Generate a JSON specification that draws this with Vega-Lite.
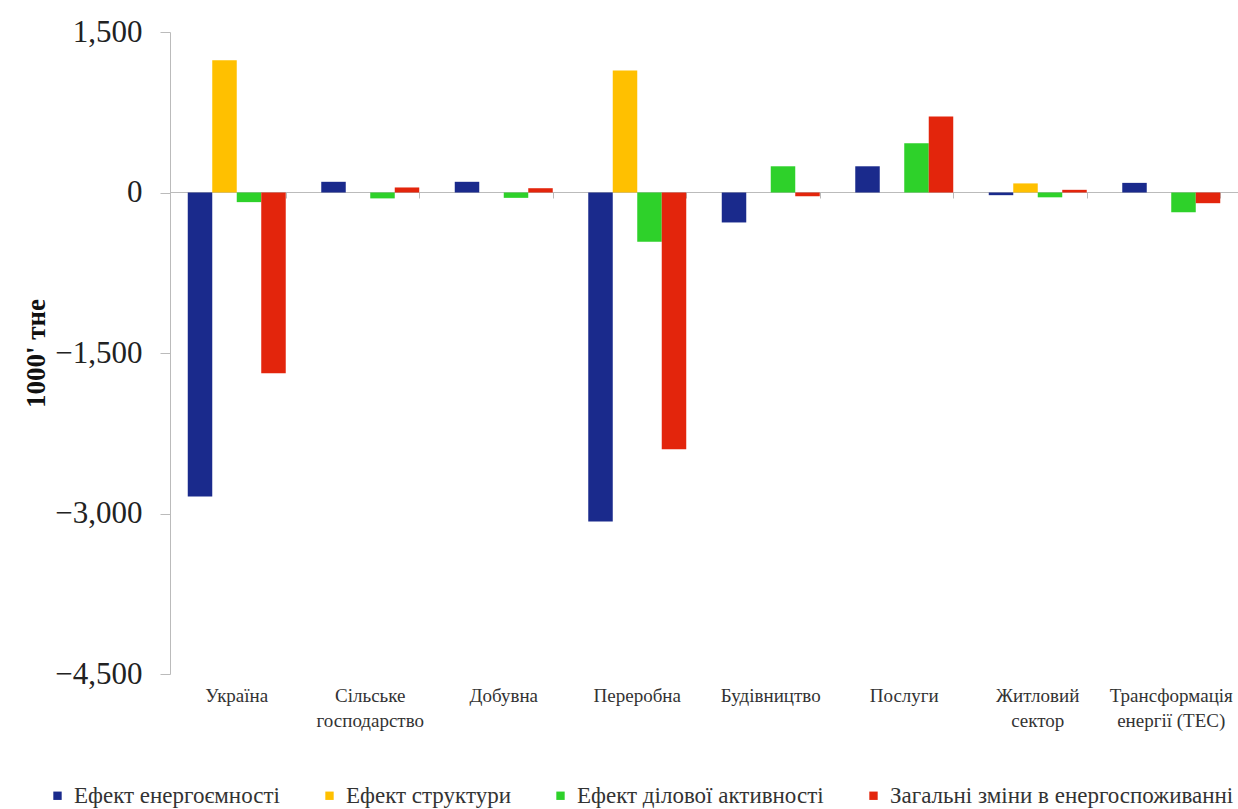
{
  "$schema": "https://vega.github.io/schema/vega-lite/v6.json",
  "width": 1068,
  "height": 642,
  "autosize": {"type": "none"},
  "padding": {"left": 170, "top": 32, "right": 0, "bottom": 135},
  "background": "white",
  "config": {
    "font": "Liberation Serif",
    "view": {"stroke": null},
    "axis": {"labelFont": "Liberation Serif", "titleFont": "Liberation Serif"},
    "legend": {"labelFont": "Liberation Serif", "titleFont": "Liberation Serif"}
  },
  "data": {
    "values": [
      {"category": "Україна", "series": "Ефект енергоємності", "value": -2840},
      {"category": "Україна", "series": "Ефект структури", "value": 1235},
      {"category": "Україна", "series": "Ефект ділової активності", "value": -90},
      {"category": "Україна", "series": "Загальні зміни в енергоспоживанні", "value": -1690},
      {"category": "Сільське господарство", "series": "Ефект енергоємності", "value": 100},
      {"category": "Сільське господарство", "series": "Ефект структури", "value": 0},
      {"category": "Сільське господарство", "series": "Ефект ділової активності", "value": -55},
      {"category": "Сільське господарство", "series": "Загальні зміни в енергоспоживанні", "value": 47},
      {"category": "Добувна", "series": "Ефект енергоємності", "value": 100},
      {"category": "Добувна", "series": "Ефект структури", "value": 0},
      {"category": "Добувна", "series": "Ефект ділової активності", "value": -50},
      {"category": "Добувна", "series": "Загальні зміни в енергоспоживанні", "value": 40},
      {"category": "Переробна", "series": "Ефект енергоємності", "value": -3075},
      {"category": "Переробна", "series": "Ефект структури", "value": 1140},
      {"category": "Переробна", "series": "Ефект ділової активності", "value": -460},
      {"category": "Переробна", "series": "Загальні зміни в енергоспоживанні", "value": -2400},
      {"category": "Будівництво", "series": "Ефект енергоємності", "value": -280},
      {"category": "Будівництво", "series": "Ефект структури", "value": 0},
      {"category": "Будівництво", "series": "Ефект ділової активності", "value": 245},
      {"category": "Будівництво", "series": "Загальні зміни в енергоспоживанні", "value": -35},
      {"category": "Послуги", "series": "Ефект енергоємності", "value": 245},
      {"category": "Послуги", "series": "Ефект структури", "value": 0},
      {"category": "Послуги", "series": "Ефект ділової активності", "value": 460},
      {"category": "Послуги", "series": "Загальні зміни в енергоспоживанні", "value": 710},
      {"category": "Житловий сектор", "series": "Ефект енергоємності", "value": -25},
      {"category": "Житловий сектор", "series": "Ефект структури", "value": 85},
      {"category": "Житловий сектор", "series": "Ефект ділової активності", "value": -45},
      {"category": "Житловий сектор", "series": "Загальні зміни в енергоспоживанні", "value": 25},
      {"category": "Трансформація енергії (ТЕС)", "series": "Ефект енергоємності", "value": 90},
      {"category": "Трансформація енергії (ТЕС)", "series": "Ефект структури", "value": 0},
      {"category": "Трансформація енергії (ТЕС)", "series": "Ефект ділової активності", "value": -185},
      {"category": "Трансформація енергії (ТЕС)", "series": "Загальні зміни в енергоспоживанні", "value": -100}
    ]
  },
  "layer": [
    {
      "mark": {"type": "bar"},
      "encoding": {
        "x": {
          "field": "category",
          "type": "nominal",
          "sort": null,
          "scale": {"paddingInner": 0.266, "paddingOuter": 0.133},
          "axis": {
            "title": null,
            "orient": "bottom",
            "labelAngle": 0,
            "domain": false,
            "ticks": false,
            "labelFont": "Times New Roman",
            "labelFontSize": 19,
            "labelColor": "#333333",
            "labelPadding": 12,
            "labelLineHeight": 25,
            "labelBaseline": "top",
            "labelLimit": 0,
            "labelExpr": "datum.label == 'Трансформація енергії (ТЕС)' ? ['Трансформація', 'енергії (ТЕС)'] : split(datum.label, ' ')"
          }
        },
        "xOffset": {
          "field": "series",
          "type": "nominal",
          "sort": ["Ефект енергоємності", "Ефект структури", "Ефект ділової активності", "Загальні зміни в енергоспоживанні"],
          "scale": {"paddingInner": 0, "paddingOuter": 0}
        },
        "y": {
          "field": "value",
          "type": "quantitative",
          "scale": {"domain": [-4500, 1500], "nice": false, "zero": true},
          "axis": {
            "title": "1000' тне",
            "titleFont": "Liberation Serif",
            "titleFontSize": 27,
            "titleFontWeight": "bold",
            "titleColor": "#111111",
            "titlePadding": 4,
            "values": [-4500, -3000, -1500, 0, 1500],
            "format": ",.0f",
            "labelFont": "Liberation Serif",
            "labelFontSize": 31,
            "labelColor": "#222222",
            "labelPadding": 18,
            "tickSize": 10,
            "tickColor": "#bbbbbb",
            "domainColor": "#bbbbbb",
            "grid": false
          }
        },
        "color": {
          "field": "series",
          "type": "nominal",
          "sort": ["Ефект енергоємності", "Ефект структури", "Ефект ділової активності", "Загальні зміни в енергоспоживанні"],
          "scale": {
            "domain": ["Ефект енергоємності", "Ефект структури", "Ефект ділової активності", "Загальні зміни в енергоспоживанні"],
            "range": ["#1a2a8c", "#ffc000", "#2ed12a", "#e3250c"]
          },
          "legend": {
            "title": null,
            "orient": "none",
            "direction": "horizontal",
            "legendX": -124,
            "legendY": 752,
            "symbolType": "square",
            "symbolSize": 70,
            "symbolStrokeWidth": 0,
            "labelFont": "Times New Roman",
            "labelFontSize": 23,
            "labelColor": "#333333",
            "labelOffset": 5,
            "labelLimit": 0,
            "columnPadding": 38
          }
        }
      }
    },
    {
      "mark": {"type": "point", "opacity": 0},
      "encoding": {
        "x": {
          "field": "category",
          "type": "nominal",
          "sort": null,
          "axis": {
            "title": null,
            "orient": "bottom",
            "offset": -482,
            "labels": false,
            "ticks": true,
            "tickBand": "extent",
            "tickSize": 6,
            "tickColor": "#bbbbbb",
            "domain": true,
            "domainColor": "#bbbbbb"
          }
        },
        "y": {"datum": 0, "type": "quantitative"}
      }
    }
  ],
  "resolve": {"axis": {"x": "independent"}}
}
